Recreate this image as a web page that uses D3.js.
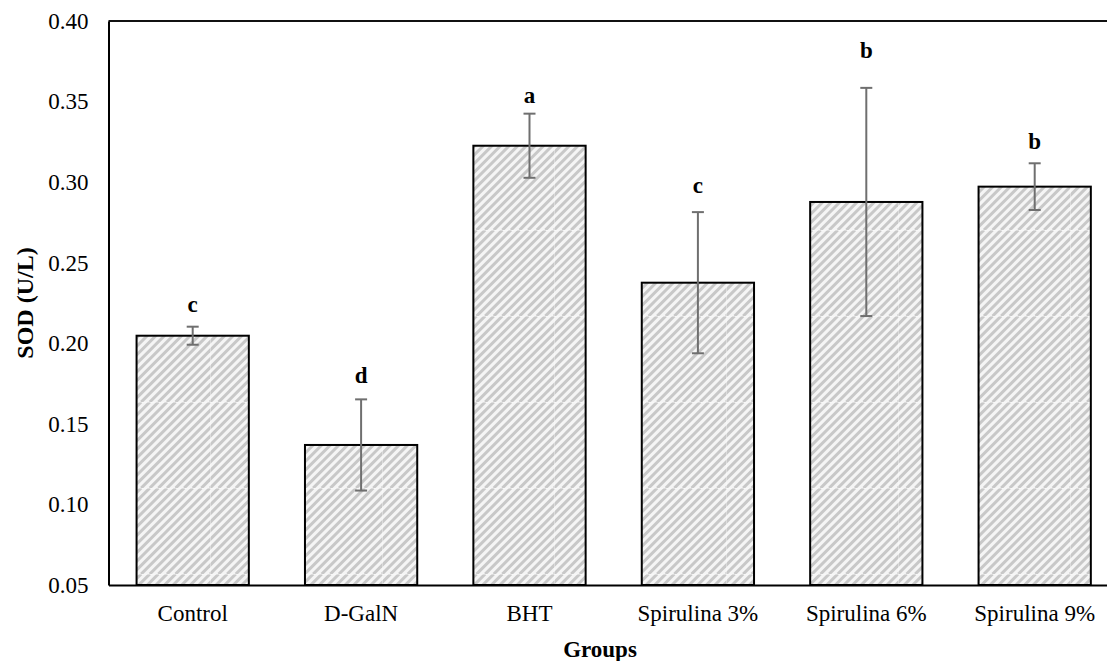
<!DOCTYPE html>
<html>
<head>
<meta charset="utf-8">
<script src="https://cdn.jsdelivr.net/npm/d3@7/dist/d3.min.js"></script>
<style>
  html, body { margin: 0; padding: 0; background: #fff; }
  svg { display: block; }
  svg text { font-family: "Liberation Serif", "Times New Roman", "DejaVu Serif", serif !important; fill: #000; }
</style>
</head>
<body>
<svg id="chart" width="1107" height="661"></svg>
<script>
// SOD activity per treatment group (mean ± SD) with significance letters
const groups = ["Control", "D-GalN", "BHT", "Spirulina 3%", "Spirulina 6%", "Spirulina 9%"];
const sodMean = [0.2047, 0.1369, 0.3226, 0.2376, 0.2877, 0.2972];
const sodErr = [0.0056, 0.0283, 0.0199, 0.0438, 0.0708, 0.0145];
const sigLetters = ["c", "d", "a", "c", "b", "b"];
const yTicks = [0.05, 0.10, 0.15, 0.20, 0.25, 0.30, 0.35, 0.40];

// gap (px) between the top of each error bar and its letter
const letterGap = [15, 16, 11, 19, 30, 14];

const svg = d3.select("#chart");
const plot = { left: 108.5, top: 21, bottom: 585, step: 168.4 };
plot.right = plot.left + plot.step * groups.length;

const x = d3.scaleBand()
  .domain(groups)
  .range([plot.left, plot.right])
  .paddingInner(1 / 3)
  .paddingOuter(1 / 6);

const y = d3.scaleLinear()
  .domain([0.05, 0.40])
  .range([plot.bottom, plot.top]);

// diagonal hatch fill, tiled in page space
const tileW = 172, tileH = 86, period = 8.6;
const defs = svg.append("defs");
defs.append("filter").attr("id", "soft")
  .append("feGaussianBlur").attr("stdDeviation", 0.6);
const pat = defs.append("pattern")
  .attr("id", "hatch")
  .attr("patternUnits", "userSpaceOnUse")
  .attr("x", 38).attr("y", 58)
  .attr("width", tileW).attr("height", tileH);
pat.append("rect").attr("width", tileW).attr("height", tileH).attr("fill", "#f5f5f5");
const offsets = d3.range(-tileH, tileW + tileH, period);
pat.selectAll("line.s").data(offsets).join("line")
  .attr("class", "s")
  .attr("x1", d => d).attr("y1", tileH)
  .attr("x2", d => d + tileH).attr("y2", 0)
  .attr("stroke", "#c8c8c8")
  .attr("stroke-width", 3);
// faint seams between tiles
pat.append("line").attr("x1", 0).attr("y1", 0.5).attr("x2", tileW).attr("y2", 0.5)
  .attr("stroke", "#ffffff").attr("stroke-opacity", 0.35).attr("stroke-width", 1);
pat.append("line").attr("x1", 0.5).attr("y1", 0).attr("x2", 0.5).attr("y2", tileH)
  .attr("stroke", "#ffffff").attr("stroke-opacity", 0.35).attr("stroke-width", 1);

// frame: top edge
svg.append("line")
  .attr("x1", plot.left).attr("x2", plot.right)
  .attr("y1", plot.top).attr("y2", plot.top)
  .attr("stroke", "#111").attr("stroke-width", 2);

// bars
const rows = groups.map((g, i) => ({ g, v: sodMean[i], e: sodErr[i], s: sigLetters[i], gap: letterGap[i] }));

const bars = svg.append("g");
bars.selectAll("rect.fill").data(rows).join("rect")
  .attr("class", "fill")
  .attr("x", d => x(d.g))
  .attr("y", d => y(d.v))
  .attr("width", x.bandwidth())
  .attr("height", d => y(0.05) - y(d.v))
  .attr("fill", "url(#hatch)")
  .attr("filter", "url(#soft)");
bars.selectAll("rect.edge").data(rows).join("rect")
  .attr("class", "edge")
  .attr("x", d => x(d.g))
  .attr("y", d => y(d.v))
  .attr("width", x.bandwidth())
  .attr("height", d => y(0.05) - y(d.v))
  .attr("fill", "none")
  .attr("stroke", "#000")
  .attr("stroke-width", 2);

// error bars
const eb = svg.append("g").attr("stroke", "#6f6f6f").attr("stroke-width", 2);
const cap = 6;
rows.forEach(d => {
  const cx = x(d.g) + x.bandwidth() / 2;
  eb.append("line").attr("x1", cx).attr("x2", cx).attr("y1", y(d.v + d.e)).attr("y2", y(d.v - d.e));
  eb.append("line").attr("x1", cx - cap).attr("x2", cx + cap).attr("y1", y(d.v + d.e)).attr("y2", y(d.v + d.e));
  eb.append("line").attr("x1", cx - cap).attr("x2", cx + cap).attr("y1", y(d.v - d.e)).attr("y2", y(d.v - d.e));
});

// significance letters
svg.append("g").selectAll("text").data(rows).join("text")
  .attr("x", d => x(d.g) + x.bandwidth() / 2)
  .attr("y", d => y(d.v + d.e) - d.gap)
  .attr("text-anchor", "middle")
  .attr("font-weight", "bold")
  .attr("font-size", 23)
  .text(d => d.s);

// y axis
const yAxis = svg.append("g")
  .attr("transform", `translate(${plot.left},0)`)
  .call(d3.axisLeft(y).tickValues(yTicks).tickFormat(d3.format(".2f")).tickSize(0).tickPadding(20));
yAxis.attr("font-family", null).attr("font-size", 23);
yAxis.select(".domain").attr("stroke", "#000").attr("stroke-width", 2);

// x axis
const xAxis = svg.append("g")
  .attr("transform", `translate(0,${plot.bottom})`)
  .call(d3.axisBottom(x).tickSize(0).tickPadding(20));
xAxis.attr("font-family", null).attr("font-size", 23);
xAxis.select(".domain").attr("stroke", "#000").attr("stroke-width", 2);

// axis titles
svg.append("text")
  .attr("x", 600).attr("y", 657)
  .attr("text-anchor", "middle")
  .attr("font-weight", "bold")
  .attr("font-size", 23)
  .text("Groups");

svg.append("text")
  .attr("transform", `translate(33,${(plot.top + plot.bottom) / 2}) rotate(-90)`)
  .attr("text-anchor", "middle")
  .attr("font-weight", "bold")
  .attr("font-size", 24)
  .text("SOD (U/L)");
</script>
</body>
</html>
